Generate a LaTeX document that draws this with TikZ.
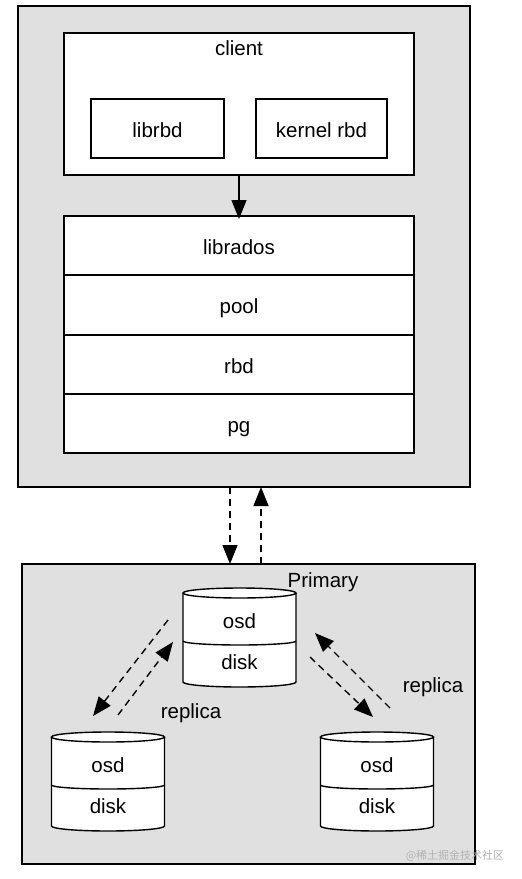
\documentclass[tikz,border=0pt]{standalone}
\usepackage{fontspec}
\setmainfont{Liberation Sans}
\newfontfamily\cjk{Noto Sans CJK SC}
\usetikzlibrary{arrows.meta,calc}
\definecolor{panel}{HTML}{E0E0E0}
\tikzset{
  box/.style={draw, line width=1.4pt, inner sep=0pt, outer sep=0pt, anchor=north west, fill=white},
  lbl/.style={inner sep=0pt, anchor=base, font=\fontsize{20.5}{24}\selectfont},
  arr/.style={line width=1.4pt, -{Triangle[length=19pt,width=15pt]}},
  darr/.style={arr, dash pattern=on 7pt off 5pt},
  cylline/.style={line width=1.4pt},
}
\newcommand\dbcyl[3]{%
  \begin{scope}[shift={(#2,#3)}]
    \fill[white] (-56.5,0) -- (-56.5,89) arc[start angle=180,end angle=0,x radius=56.5,y radius=5] -- (56.5,0) -- cycle;
    \draw[cylline] (-56.5,0) -- (-56.5,89) arc[start angle=180,end angle=0,x radius=56.5,y radius=5] -- (56.5,0);
    \draw[cylline,fill=white] (0,0) ellipse[x radius=56.5,y radius=5];
    \draw[cylline] (-56.5,48) arc[start angle=180,end angle=0,x radius=56.5,y radius=4];
    \node[lbl] (#1osd) at (0,35) {osd};
    \node[lbl] (#1disk) at (0,76) {disk};
  \end{scope}}
\begin{document}
\begin{tikzpicture}[x=1pt,y=-1pt]
\useasboundingbox (0,0) rectangle (522,879);
% top panel
\node[box, fill=panel, minimum width=452pt, minimum height=481pt] (top) at (18,6) {};
\node[box, minimum width=350pt, minimum height=142pt] (client) at (64,33) {};
\node[lbl] (clientlbl) at (239,55) {client};
\node[box, minimum width=133pt, minimum height=59pt] (librbd) at (91,99) {};
\node[lbl, yshift=-8.5pt] at (librbd.center) {librbd};
\node[box, minimum width=131pt, minimum height=59pt] (krbd) at (256,99) {};
\node[lbl, yshift=-8.5pt] at (krbd.center) {kernel rbd};
\node[box, minimum width=350pt, minimum height=59pt] (librados) at (64,216) {};
\node[lbl, yshift=-8.5pt] at (librados.center) {librados};
\node[box, minimum width=350pt, minimum height=60pt] (pool) at (64,275) {};
\node[lbl, yshift=-8.5pt] at (pool.center) {pool};
\node[box, minimum width=350pt, minimum height=59pt] (rbd) at (64,335) {};
\node[lbl, yshift=-8.5pt] at (rbd.center) {rbd};
\node[box, minimum width=350pt, minimum height=59pt] (pg) at (64,394) {};
\node[lbl, yshift=-8.5pt] at (pg.center) {pg};
\draw[arr] (client.south) -- ([yshift=-3pt]librados.north);
% bottom panel
\node[box, fill=panel, minimum width=453pt, minimum height=300pt] (bottom) at (22,564) {};
\node[lbl] (primary) at (323,587) {Primary};
\draw[darr] ([xshift=-14pt]top.south) -- ([xshift=-14pt]top.south |- bottom.north);
\draw[darr] ([xshift=17pt]top.south |- bottom.north) -- ([xshift=17pt]top.south);
% cylinders
\dbcyl{p}{239.5}{593}
\dbcyl{l}{108}{737}
\dbcyl{r}{377}{737}
% replica arrows
\coordinate (la1) at (168,620); \coordinate (la2) at (93,716);
\coordinate (lb1) at (118,715); \coordinate (lb2) at (173,642);
\coordinate (ra1) at (390,708); \coordinate (ra2) at (315,633);
\coordinate (rb1) at (310,657); \coordinate (rb2) at (373,717);
\draw[darr] (la1) -- (la2);
\draw[darr] (lb1) -- (lb2);
\draw[darr] (ra1) -- (ra2);
\draw[darr] (rb1) -- (rb2);
\node[lbl] (repl) at (191,718) {replica};
\node[lbl] (repr) at (433,692) {replica};
% watermark
\node[inner sep=0pt, text=black!30, font=\cjk\fontsize{11}{13}\selectfont] (wm) at (455,856) {@稀土掘金技术社区};
\end{tikzpicture}
\end{document}
